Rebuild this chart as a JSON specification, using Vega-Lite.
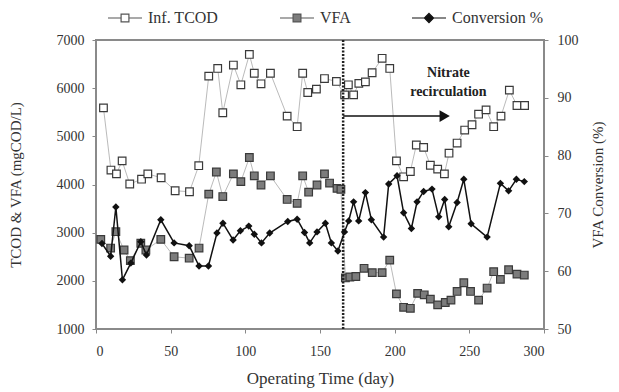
{
  "$schema": "https://vega.github.io/schema/vega-lite/v6.json",
  "width": 448,
  "height": 289,
  "autosize": {"type": "none"},
  "padding": {"left": 96, "top": 40, "right": 75, "bottom": 63},
  "background": "white",
  "datasets": {
    "tcod": [
      {"day": 5, "v": 5590}, {"day": 10, "v": 4300}, {"day": 13.7, "v": 4220}, {"day": 17.5, "v": 4490},
      {"day": 22.6, "v": 4010}, {"day": 30.5, "v": 4110}, {"day": 34.7, "v": 4220}, {"day": 43.6, "v": 4140},
      {"day": 53, "v": 3870}, {"day": 62.6, "v": 3850}, {"day": 68.8, "v": 4390}, {"day": 75.5, "v": 6250},
      {"day": 81.5, "v": 6410}, {"day": 84.9, "v": 5490}, {"day": 92, "v": 6480}, {"day": 97, "v": 6070},
      {"day": 102.7, "v": 6700}, {"day": 106, "v": 6310}, {"day": 110.5, "v": 6090}, {"day": 116.8, "v": 6310},
      {"day": 128, "v": 5420}, {"day": 134.7, "v": 5200}, {"day": 138.4, "v": 6310}, {"day": 141.8, "v": 5910},
      {"day": 147.6, "v": 5980}, {"day": 153, "v": 6200}, {"day": 161, "v": 6140}, {"day": 166.5, "v": 5860},
      {"day": 169, "v": 6070}, {"day": 172.5, "v": 5860}, {"day": 176, "v": 6100}, {"day": 180.4, "v": 6130},
      {"day": 184.9, "v": 6320}, {"day": 191.6, "v": 6620}, {"day": 196.7, "v": 6410}, {"day": 201.2, "v": 4490},
      {"day": 206, "v": 4160}, {"day": 210.5, "v": 4270}, {"day": 214.5, "v": 4820}, {"day": 219.4, "v": 4770},
      {"day": 223.9, "v": 4400}, {"day": 228.8, "v": 4320}, {"day": 233.3, "v": 4220}, {"day": 236.4, "v": 4650},
      {"day": 241.8, "v": 4860}, {"day": 246.9, "v": 5130}, {"day": 251.8, "v": 5240}, {"day": 256.2, "v": 5460},
      {"day": 261.2, "v": 5550}, {"day": 266.3, "v": 5200}, {"day": 271.2, "v": 5420}, {"day": 276.8, "v": 5960},
      {"day": 281.9, "v": 5640}, {"day": 287, "v": 5640}
    ],
    "vfa": [
      {"day": 3.2, "v": 2860}, {"day": 9.8, "v": 2680}, {"day": 13.3, "v": 3020}, {"day": 18.8, "v": 2640},
      {"day": 23, "v": 2420}, {"day": 30, "v": 2780}, {"day": 33.4, "v": 2640}, {"day": 43.4, "v": 2860},
      {"day": 52.3, "v": 2500}, {"day": 62.4, "v": 2470}, {"day": 69, "v": 2680}, {"day": 75.5, "v": 3800},
      {"day": 80.6, "v": 4260}, {"day": 84.9, "v": 3750}, {"day": 92, "v": 4220}, {"day": 97, "v": 4060},
      {"day": 102.7, "v": 4560}, {"day": 106, "v": 4180}, {"day": 110.5, "v": 3990}, {"day": 116.8, "v": 4180},
      {"day": 128, "v": 3690}, {"day": 134.7, "v": 3610}, {"day": 138.4, "v": 4180}, {"day": 142.4, "v": 3840},
      {"day": 148, "v": 3990}, {"day": 153, "v": 4220}, {"day": 156.4, "v": 4030}, {"day": 161.4, "v": 3920},
      {"day": 164, "v": 3900}, {"day": 167, "v": 2060}, {"day": 170, "v": 2080}, {"day": 174, "v": 2090},
      {"day": 179.5, "v": 2260}, {"day": 185, "v": 2170}, {"day": 191.6, "v": 2170}, {"day": 196.7, "v": 2430},
      {"day": 201.2, "v": 1730}, {"day": 206, "v": 1450}, {"day": 210.5, "v": 1430}, {"day": 215.4, "v": 1740},
      {"day": 219.8, "v": 1710}, {"day": 223.9, "v": 1620}, {"day": 228.8, "v": 1500}, {"day": 233.9, "v": 1550},
      {"day": 237.7, "v": 1600}, {"day": 241.8, "v": 1780}, {"day": 246.3, "v": 1960}, {"day": 250.8, "v": 1780},
      {"day": 256.2, "v": 1600}, {"day": 261.9, "v": 1850}, {"day": 266.3, "v": 2190}, {"day": 270.8, "v": 2030},
      {"day": 276.3, "v": 2230}, {"day": 281.9, "v": 2140}, {"day": 286.8, "v": 2120}
    ],
    "conv": [
      {"day": 4, "c": 64.8}, {"day": 9.8, "c": 62.6}, {"day": 13.3, "c": 71.1}, {"day": 17.7, "c": 58.5},
      {"day": 23.3, "c": 61.4}, {"day": 30, "c": 65.1}, {"day": 33.8, "c": 62.8}, {"day": 43.4, "c": 68.9},
      {"day": 52.3, "c": 64.9}, {"day": 62.4, "c": 64.4}, {"day": 69, "c": 60.9}, {"day": 75.3, "c": 60.9},
      {"day": 81, "c": 66.6}, {"day": 85, "c": 68.3}, {"day": 91.8, "c": 65.4}, {"day": 96.7, "c": 67.0},
      {"day": 102.3, "c": 67.8}, {"day": 106, "c": 66.4}, {"day": 110.8, "c": 64.9}, {"day": 116.3, "c": 66.6},
      {"day": 128.4, "c": 68.6}, {"day": 134.7, "c": 69.0}, {"day": 139.6, "c": 66.7}, {"day": 143.1, "c": 64.9},
      {"day": 148, "c": 66.8}, {"day": 153.6, "c": 68.3}, {"day": 157.6, "c": 64.9}, {"day": 162, "c": 63.5},
      {"day": 166.4, "c": 66.8}, {"day": 169.2, "c": 68.7}, {"day": 172.5, "c": 72.0}, {"day": 175.9, "c": 68.7},
      {"day": 180.4, "c": 73.6}, {"day": 184.4, "c": 68.9}, {"day": 192.6, "c": 65.9}, {"day": 196, "c": 75.1},
      {"day": 201.6, "c": 76.5}, {"day": 206, "c": 70.1}, {"day": 211.2, "c": 67.4}, {"day": 215, "c": 72.0},
      {"day": 219.4, "c": 73.8}, {"day": 225, "c": 74.2}, {"day": 229.5, "c": 69.4}, {"day": 233.5, "c": 72.4},
      {"day": 236.2, "c": 67.7}, {"day": 241.8, "c": 71.9}, {"day": 246.3, "c": 75.9}, {"day": 251.2, "c": 68.2},
      {"day": 261.9, "c": 65.9}, {"day": 270.8, "c": 75.2}, {"day": 276.3, "c": 73.9}, {"day": 281.5, "c": 75.9},
      {"day": 286.8, "c": 75.5}
    ],
    "series": [
      {"s": "Inf. TCOD"}, {"s": "VFA"}, {"s": "Conversion %"}
    ],
    "one": [{}]
  },
  "layer": [
    {
      "layer": [
        {
          "data": {"name": "tcod"},
          "mark": {"type": "line", "color": "#a8a8a8", "strokeWidth": 0.8},
          "encoding": {
            "x": {"field": "day", "type": "quantitative", "scale": {"domain": [0, 300], "nice": false},
                  "axis": {"values": [0, 50, 100, 150, 200, 250, 300], "title": "Operating Time (day)"}},
            "y": {"field": "v", "type": "quantitative", "scale": {"domain": [1000, 7000], "nice": false},
                  "axis": {"values": [1000, 2000, 3000, 4000, 5000, 6000, 7000], "format": "d", "title": "TCOD & VFA (mgCOD/L)"}}
          }
        },
        {
          "data": {"name": "vfa"},
          "mark": {"type": "line", "color": "#a8a8a8", "strokeWidth": 0.8},
          "encoding": {
            "x": {"field": "day", "type": "quantitative"},
            "y": {"field": "v", "type": "quantitative"}
          }
        },
        {
          "data": {"name": "tcod"},
          "mark": {"type": "point", "shape": "square", "filled": true, "fill": "white", "stroke": "#3a3a3a", "strokeWidth": 1.2, "size": 58, "opacity": 1},
          "encoding": {
            "x": {"field": "day", "type": "quantitative"},
            "y": {"field": "v", "type": "quantitative"}
          }
        },
        {
          "data": {"name": "vfa"},
          "mark": {"type": "point", "shape": "square", "filled": true, "fill": "#7c7c7c", "stroke": "#3a3a3a", "strokeWidth": 1.2, "size": 58, "opacity": 1},
          "encoding": {
            "x": {"field": "day", "type": "quantitative"},
            "y": {"field": "v", "type": "quantitative"}
          }
        },
        {
          "data": {"name": "one"},
          "mark": {"type": "rule", "color": "#222", "strokeWidth": 2.5, "strokeDash": [2, 1.5]},
          "encoding": {"x": {"datum": 165.5, "type": "quantitative"}}
        },
        {
          "data": {"name": "one"},
          "mark": {"type": "rule", "color": "#111", "strokeWidth": 1.5},
          "encoding": {
            "x": {"datum": 165.5, "type": "quantitative"},
            "x2": {"datum": 231},
            "y": {"datum": 5420, "type": "quantitative"}
          }
        },
        {
          "data": {"name": "one"},
          "mark": {"type": "point", "shape": "triangle-right", "filled": true, "color": "#111", "size": 140, "opacity": 1},
          "encoding": {
            "x": {"datum": 233.5, "type": "quantitative"},
            "y": {"datum": 5420, "type": "quantitative"}
          }
        },
        {
          "data": {"name": "one"},
          "mark": {"type": "text", "text": "Nitrate", "font": "Liberation Serif", "fontWeight": "bold", "fontSize": 14, "color": "#222", "align": "center", "baseline": "middle"},
          "encoding": {
            "x": {"datum": 236, "type": "quantitative"},
            "y": {"datum": 6320, "type": "quantitative"}
          }
        },
        {
          "data": {"name": "one"},
          "mark": {"type": "text", "text": "recirculation", "font": "Liberation Serif", "fontWeight": "bold", "fontSize": 14, "color": "#222", "align": "center", "baseline": "middle"},
          "encoding": {
            "x": {"datum": 236, "type": "quantitative"},
            "y": {"datum": 5930, "type": "quantitative"}
          }
        },
        {
          "data": {"name": "series"},
          "mark": {"type": "point", "filled": true, "clip": true, "size": 10},
          "encoding": {
            "x": {"datum": -100, "type": "quantitative"},
            "y": {"datum": 4000, "type": "quantitative"},
            "shape": {"field": "s", "type": "nominal",
              "scale": {"domain": ["Inf. TCOD", "VFA", "Conversion %"],
                        "range": ["M-1,0H-0.23M0.23,0H1M-0.23,-0.23H0.23V0.23H-0.23Z",
                                  "M-1,0H-0.23M0.23,0H1M-0.23,-0.23H0.23V0.23H-0.23Z",
                                  "M-1,0H1M0,-0.27L0.27,0L0,0.27L-0.27,0Z"]},
              "legend": {"title": null}},
            "fill": {"field": "s", "type": "nominal",
              "scale": {"domain": ["Inf. TCOD", "VFA", "Conversion %"], "range": ["white", "#7c7c7c", "#111"]},
              "legend": {"title": null}},
            "stroke": {"field": "s", "type": "nominal",
              "scale": {"domain": ["Inf. TCOD", "VFA", "Conversion %"], "range": ["#555", "#555", "#111"]},
              "legend": {"title": null}}
          }
        }
      ]
    },
    {
      "data": {"name": "conv"},
      "layer": [
        {
          "mark": {"type": "line", "color": "#111", "strokeWidth": 1.5},
          "encoding": {
            "x": {"field": "day", "type": "quantitative"},
            "y": {"field": "c", "type": "quantitative", "scale": {"domain": [50, 100], "nice": false},
                  "axis": {"orient": "right", "values": [50, 60, 70, 80, 90, 100], "title": "VFA Conversion (%)"}}
          }
        },
        {
          "mark": {"type": "point", "shape": "diamond", "filled": true, "color": "#111", "size": 55, "opacity": 1},
          "encoding": {
            "x": {"field": "day", "type": "quantitative"},
            "y": {"field": "c", "type": "quantitative"}
          }
        }
      ]
    }
  ],
  "resolve": {"scale": {"y": "independent"}},
  "config": {
    "view": {"stroke": "#8a8a8a", "strokeWidth": 2},
    "font": "Liberation Serif",
    "axis": {
      "grid": false, "domain": false, "tickColor": "#888", "tickSize": 4,
      "labelFont": "Liberation Serif", "labelFontSize": 14, "labelColor": "#333",
      "titleFont": "Liberation Serif", "titleFontWeight": "normal", "titleColor": "#333"
    },
    "axisBottom": {"labelPadding": 11, "titleFontSize": 17, "titlePadding": 12},
    "axisLeft": {"labelPadding": 8, "titleFontSize": 15, "titlePadding": 33},
    "axisRight": {"labelPadding": 9, "titleFontSize": 15, "titlePadding": 27, "titleAngle": 270},
    "legend": {
      "orient": "none", "direction": "horizontal", "legendX": 11, "legendY": -40,
      "padding": 0, "symbolSize": 1156, "symbolStrokeWidth": 1.2,
      "labelFont": "Liberation Serif", "labelFontSize": 16, "labelColor": "#333",
      "labelOffset": 5, "columnPadding": 58, "symbolOpacity": 1
    }
  }
}
